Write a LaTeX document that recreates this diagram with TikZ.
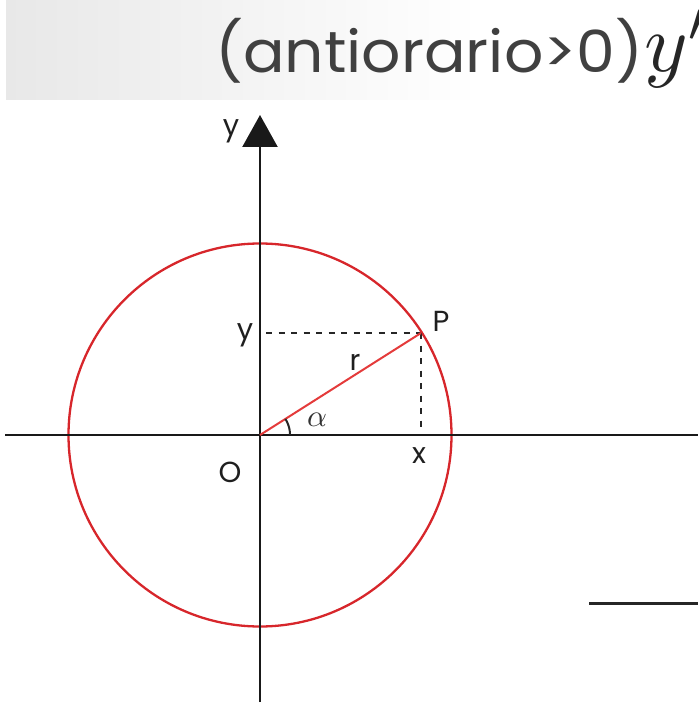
\documentclass[tikz,border=0pt]{standalone}
\usepackage{fontspec}
\setmainfont{Poppins}
\usepackage{graphicx}
\usetikzlibrary{arrows.meta}
\definecolor{circred}{HTML}{D7262B}
\definecolor{radred}{HTML}{E43B3B}
\definecolor{txtgray}{HTML}{404040}
\tikzset{
  axis/.style={line width=2.4pt, black!90},
  circline/.style={line width=2.3pt, circred},
  radline/.style={line width=2pt, radred},
  guide/.style={line width=2pt, black!85, dash pattern=on 6pt off 6.5pt},
  lbl/.style={inner sep=0pt, font=\fontsize{29}{30}\selectfont, text=black!88},
  greek/.style={inner sep=0pt, text=black!80},
}
\begin{document}
\begin{tikzpicture}[x=1pt, y=-1pt]
\useasboundingbox (0,0) rectangle (698,703);
\clip (0,0) rectangle (698,703);
% header band
\shade[left color=black!9, right color=white] (6,0) rectangle (480,100);
\node[anchor=north west, inner sep=0pt, text=txtgray] (head) at (215,18)
  {\resizebox*{428pt}{65pt}{(antiorario>0)}};
\node[anchor=base west, inner sep=0pt, text=black!85] (yp) at (644,72)
  {\scalebox{8.3}{$y'$}};
% coordinates
\coordinate (O) at (260,435);
\coordinate (P) at (421,333);
\coordinate (xl) at (5,435);
\coordinate (xr) at (698,435);
\coordinate (yb) at (260,702);
\coordinate (yt) at (260,115);
\coordinate (ya) at (266,333);
\coordinate (xa) at (421,432);
% circle
\draw[circline] (O) circle[radius=191.5pt];
% axes
\draw[axis] (xl) -- (xr);
\draw[axis, -{Triangle[width=35pt,length=32pt]}] (yb) -- (yt);
% guides
\draw[guide] (ya) -- (P);
\draw[guide] (P) -- (xa);
% radius
\draw[radline] (O) -- (P);
% angle arc
\draw[line width=2pt, black!85] plot[domain=0:32.4, samples=24] ({260+30*cos(\x)},{435-30*sin(\x)});
% labels
\node[lbl] (ylab) at (231,131) {y};
\node[lbl] (ylab2) at (245,335) {y};
\node[lbl] (Plab) at (441,321) {P};
\node[lbl] (rlab) at (355,362) {r};
\node[greek] (alab) at (317,420) {\scalebox{3.1}{$\alpha$}};
\node[lbl] (xlab) at (419,456) {x};
\node[lbl] (Olab) at (230,472) {O};
% stray segment bottom right
\coordinate (s1) at (589,603);
\coordinate (s2) at (698,603);
\draw[line width=3pt, black!85] (s1) -- (s2);
\end{tikzpicture}
\end{document}
